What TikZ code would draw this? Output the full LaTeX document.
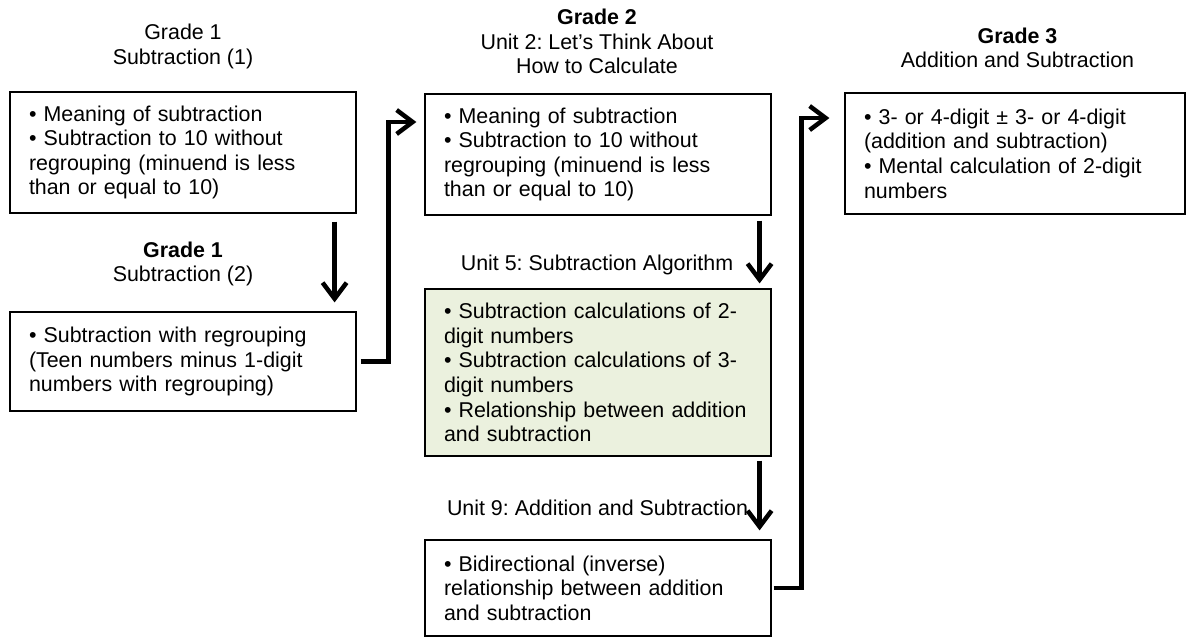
\documentclass[tikz,border=0pt]{standalone}
\usepackage{fontspec}
\setmainfont{Liberation Sans}
\usetikzlibrary{arrows.meta,positioning}
\definecolor{unitgreen}{HTML}{EBF1DE}
\frenchspacing

\begin{document}
\begin{tikzpicture}[x=1pt,y=-1pt,
  every node/.style={font=\fontsize{21.4}{24.6}\selectfont},
  box/.style={draw,line width=1.2pt,align=left,inner xsep=19pt,
    minimum width=346pt,text width=308pt},
  head/.style={align=center},
  flow/.style={line width=4.5pt,-{Straight Barb[length=16pt,width=24pt,line width=4.5pt]}}]
\useasboundingbox (0,0) rectangle (1188,638);
% titles
\node[head] (t1) at (183,46.5) {Grade 1\\Subtraction (1)};
\node[head] (t2) at (183,264) {\textbf{Grade 1}\\Subtraction (2)};
\node[head] (t3) at (597,41.5) {\textbf{Grade 2}\\Unit 2: Let’s Think About\\How to Calculate};
\node[head] (t4) at (597,265) {Unit 5: Subtraction Algorithm};
\node[head] (t5) at (597.5,508) {Unit 9: Addition and Subtraction};
\node[head] (t6) at (1017.5,48) {\textbf{Grade 3}\\Addition and Subtraction};
% boxes
\node[box,minimum height=121pt] (A) at (183,152.5) {• Meaning of subtraction\\• Subtraction to 10 without\\regrouping (minuend is less\\than or equal to 10)};
\node[box,minimum height=99pt] (B) at (183,361.5) {• Subtraction with regrouping\\(Teen numbers minus 1-digit\\numbers with regrouping)};
\node[box,minimum height=121pt] (C) at (598,154.5) {• Meaning of subtraction\\• Subtraction to 10 without\\regrouping (minuend is less\\than or equal to 10)};
\node[box,fill=unitgreen,minimum height=167pt] (D) at (598,372.5) {• Subtraction calculations of 2-\\digit numbers\\• Subtraction calculations of 3-\\digit numbers\\• Relationship between addition\\and subtraction};
\node[box,minimum height=96pt] (E) at (598,588) {• Bidirectional (inverse)\\relationship between addition\\and subtraction};
\node[box,minimum width=340pt,text width=302pt,minimum height=121pt] (F) at (1015,153.5) {• 3- or 4-digit ± 3- or 4-digit\\(addition and subtraction)\\• Mental calculation of 2-digit\\numbers};
% connectors
\draw[flow,shorten <=8pt,shorten >=9pt] ([xshift=-22pt]A.south east) -- ([xshift=-22pt]B.north east);
\draw[flow,shorten <=4pt,shorten >=8pt] (B.east) -- ++(32,0) |- ([yshift=32.5pt]C.west);
\draw[flow,shorten <=5pt,shorten >=5pt] ([xshift=-12pt]C.south east) -- ([xshift=-12pt]D.north east);
\draw[flow,shorten <=4pt,shorten >=9pt] ([xshift=-12pt]D.south east) -- ([xshift=-12pt]E.north east);
\draw[flow,shorten <=2pt,shorten >=15pt] (E.east) -- ++(30,0) |- ([yshift=35.5pt]F.west);
\end{tikzpicture}
\end{document}
